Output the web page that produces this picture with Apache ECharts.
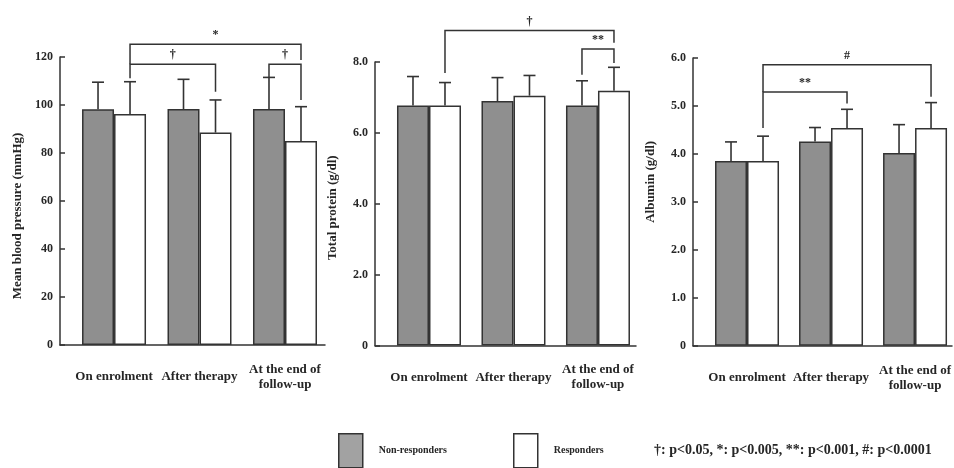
<!DOCTYPE html>
<html>
<head>
<meta charset="utf-8">
<style>
  html, body { margin: 0; padding: 0; background: #fff; }
  #chart { width: 954px; height: 468px; }
</style>
<script src="https://cdn.jsdelivr.net/npm/echarts@6/dist/echarts.min.js"></script>
</head>
<body>
<div id="chart"></div>
<script>
// Groups along the x axis (positions 1, 2, 3)
const categories = ['On enrolment', 'After therapy', 'At the end of\nfollow-up'];
const groupNames = ['Non-responders', 'Responders'];

// Mean blood pressure (mmHg): mean and SD
const mbpNon = [98.2, 98.3, 98.3];
const mbpNonSD = [11.3, 12.4, 13.2];
const mbpResp = [96.3, 88.5, 85.0];
const mbpRespSD = [13.4, 13.6, 14.3];

// Total protein (g/dl)
const tpNon = [6.77, 6.90, 6.77];
const tpNonSD = [0.82, 0.66, 0.70];
const tpResp = [6.77, 7.05, 7.19];
const tpRespSD = [0.65, 0.57, 0.66];

// Albumin (g/dl)
const albNon = [3.85, 4.26, 4.02];
const albNonSD = [0.40, 0.29, 0.59];
const albResp = [3.85, 4.54, 4.54];
const albRespSD = [0.52, 0.39, 0.53];

// Significance brackets: [groupA, seriesA, groupB, seriesB, bracket level, leg A end, leg B end]
const mbpBrackets = [[0, 1, 2, 1, 125.3, 117, 118.8], [0, 1, 1, 1, 117, 111.1, 105.5], [2, 0, 2, 1, 117, 111.5, 102.1]];
const mbpMarks = ['*', '†', '†'];
const tpBrackets = [[0, 1, 2, 1, 8.89, 7.69, 8.54], [2, 0, 2, 1, 8.37, 7.64, 7.97]];
const tpMarks = ['†', '**'];
const albBrackets = [[0, 1, 2, 1, 5.86, 5.29, 5.19], [0, 1, 1, 1, 5.29, 4.54, 5.05]];
const albMarks = ['#', '**'];

const pNote = '†: p<0.05, *: p<0.005, **: p<0.001, #: p<0.0001';

const FONT = "'Liberation Serif', 'DejaVu Serif', serif";
const INK = '#262626';
const LINE = '#333';
const GRAY = '#8f8f8f';
const BAR_W = 32;
const CAP = 12;

const panels = [
  { name: 'Mean blood pressure (mmHg)', max: 120, step: 20, dec: 0,
    non: mbpNon, nonSD: mbpNonSD, resp: mbpResp, respSD: mbpRespSD,
    brackets: mbpBrackets, marks: mbpMarks,
    grid: { left: 60, right: 629, top: 57, bottom: 123 }, xMin: 0.368, xMax: 3.468, namePad: [0, 30, 0, 0] },
  { name: 'Total protein (g/dl)', max: 8, step: 2, dec: 1,
    non: tpNon, nonSD: tpNonSD, resp: tpResp, respSD: tpRespSD,
    brackets: tpBrackets, marks: tpMarks,
    grid: { left: 375, right: 318, top: 62, bottom: 122.5 }, xMin: 0.361, xMax: 3.45, namePad: [0, 8, 0, 0] },
  { name: 'Albumin (g/dl)', max: 6, step: 1, dec: 1,
    non: albNon, nonSD: albNonSD, resp: albResp, respSD: albRespSD,
    brackets: albBrackets, marks: albMarks,
    grid: { left: 693, right: 2, top: 58, bottom: 122.3 }, xMin: 0.357, xMax: 3.44, namePad: [0, 0, 0, 40] }
];

function barX(api, g, side, y) {
  const p = api.coord([g + 1, y]);
  return [p[0] + (side === 0 ? -BAR_W / 2 : BAR_W / 2), p[1]];
}

function errorSeries(idx, means, sds, side) {
  return {
    type: 'custom', xAxisIndex: idx, yAxisIndex: idx, z: 3, clip: false, silent: true,
    data: means.map((m, i) => [i + 1, m, sds[i]]),
    renderItem: function (params, api) {
      const g = api.value(0) - 1;
      const base = barX(api, g, side, api.value(1));
      const top = barX(api, g, side, api.value(1) + api.value(2));
      const st = { stroke: LINE, lineWidth: 1.6 };
      return { type: 'group', children: [
        { type: 'line', shape: { x1: base[0], y1: base[1], x2: top[0], y2: top[1] }, style: st },
        { type: 'line', shape: { x1: top[0] - CAP / 2, y1: top[1], x2: top[0] + CAP / 2, y2: top[1] }, style: st }
      ] };
    }
  };
}

function bracketSeries(idx, brackets, marks) {
  return {
    type: 'custom', xAxisIndex: idx, yAxisIndex: idx, z: 4, clip: false, silent: true,
    data: brackets,
    renderItem: function (params, api) {
      const a = barX(api, api.value(0), api.value(1), api.value(5));
      const b = barX(api, api.value(2), api.value(3), api.value(6));
      const lv = barX(api, api.value(0), api.value(1), api.value(4))[1];
      return { type: 'group', children: [
        { type: 'polyline', shape: { points: [[a[0], a[1]], [a[0], lv], [b[0], lv], [b[0], b[1]]] },
          style: { stroke: LINE, lineWidth: 1.5, fill: null } },
        { type: 'text', x: (a[0] + b[0]) / 2, y: lv - 9,
          style: { text: marks[params.dataIndex], fill: INK, font: 'bold 12px ' + FONT, align: 'center', verticalAlign: 'middle' } }
      ] };
    }
  };
}

const grids = [], xAxes = [], yAxes = [], series = [];
panels.forEach((p, i) => {
  grids.push(Object.assign({ outerBoundsMode: 'none', containLabel: false }, p.grid));
  xAxes.push({
    gridIndex: i, type: 'value', min: p.xMin, max: p.xMax,
    axisLine: { show: true, lineStyle: { color: LINE, width: 1.5 } },
    axisTick: { show: false }, splitLine: { show: false },
    axisLabel: {
      customValues: [1, 2, 3],
      formatter: v => categories[Math.round(v) - 1],
      color: INK, fontFamily: FONT, fontWeight: 'bold', fontSize: 13,
      verticalAlign: 'middle', margin: 32, lineHeight: 15
    }
  });
  yAxes.push({
    gridIndex: i, type: 'value', min: 0, max: p.max, interval: p.step,
    name: p.name, nameLocation: 'middle', nameGap: 36,
    nameTextStyle: { color: INK, fontFamily: FONT, fontWeight: 'bold', fontSize: 13, padding: p.namePad },
    axisLine: { show: true, lineStyle: { color: LINE, width: 1.5 } },
    axisTick: { show: true, inside: true, length: 5, lineStyle: { color: LINE, width: 1.5 } },
    splitLine: { show: false },
    axisLabel: {
      color: INK, fontFamily: FONT, fontWeight: 'bold', fontSize: 12, margin: 7,
      formatter: v => (v === 0 ? '0' : v.toFixed(p.dec))
    }
  });
  series.push({
    type: 'bar', name: groupNames[0], xAxisIndex: i, yAxisIndex: i,
    barWidth: BAR_W, barGap: '0%',
    itemStyle: { color: GRAY, borderColor: LINE, borderWidth: 1.5 },
    data: p.non.map((v, k) => [k + 1, v])
  });
  series.push({
    type: 'bar', name: groupNames[1], xAxisIndex: i, yAxisIndex: i,
    barWidth: BAR_W, barGap: '0%',
    itemStyle: { color: '#fff', borderColor: LINE, borderWidth: 1.5 },
    data: p.resp.map((v, k) => [k + 1, v])
  });
  series.push(errorSeries(i, p.non, p.nonSD, 0));
  series.push(errorSeries(i, p.resp, p.respSD, 1));
  series.push(bracketSeries(i, p.brackets, p.marks));
});

const legendText = { color: INK, fontFamily: FONT, fontWeight: 'bold', fontSize: 10, padding: [0, 0, 0, 11] };
const chart = echarts.init(document.getElementById('chart'), null, { renderer: 'canvas' });
chart.setOption({
  animation: false,
  backgroundColor: '#fff',
  grid: grids,
  xAxis: xAxes,
  yAxis: yAxes,
  legend: [
    { data: [groupNames[0]], left: 338, top: 433, padding: 0, itemWidth: 24, itemHeight: 34, icon: 'rect',
      itemStyle: { color: '#a2a2a2', borderColor: LINE, borderWidth: 1.5 }, textStyle: legendText, selectedMode: false },
    { data: [groupNames[1]], left: 513, top: 433, padding: 0, itemWidth: 24, itemHeight: 34, icon: 'rect',
      itemStyle: { color: '#fff', borderColor: LINE, borderWidth: 1.5 }, textStyle: legendText, selectedMode: false }
  ],
  title: {
    text: pNote, left: 654, top: 443, padding: 0,
    textStyle: { color: INK, fontFamily: FONT, fontWeight: 'bold', fontSize: 14 }
  },
  series: series
});
</script>
</body>
</html>
